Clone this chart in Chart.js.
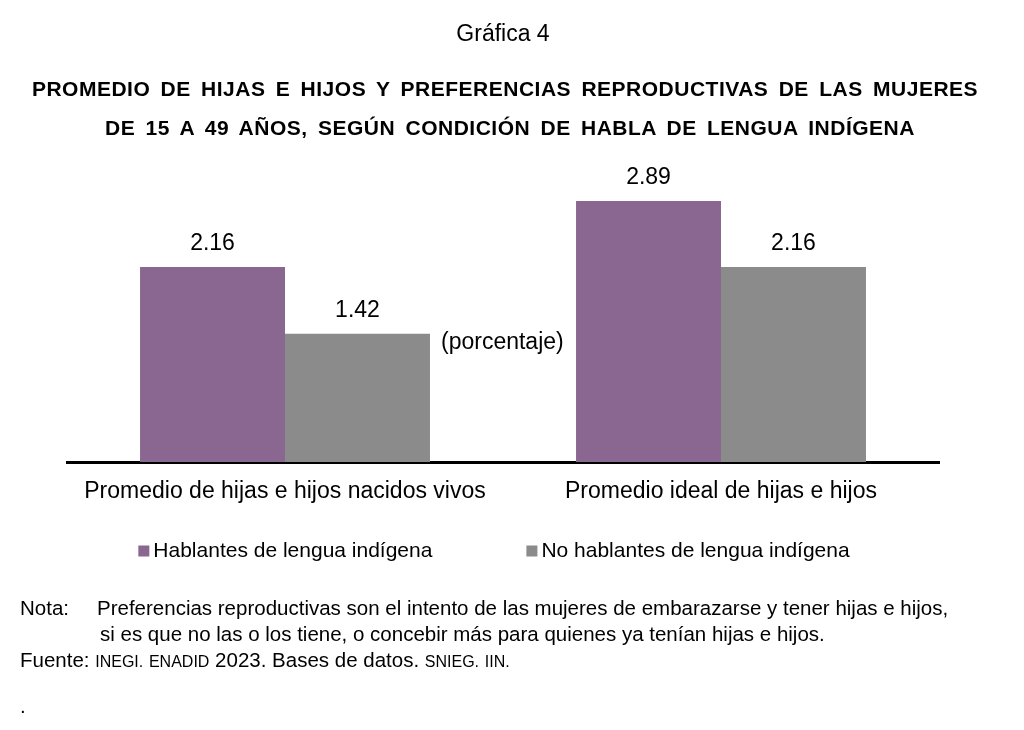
<!DOCTYPE html>
<html lang="es">
<head>
<meta charset="utf-8">
<title>Gráfica 4</title>
<script src="https://cdn.jsdelivr.net/npm/chart.js@4.4.1/dist/chart.umd.min.js"></script>
<style>
  html, body { margin: 0; padding: 0; background: #fff; }
  body { width: 1024px; height: 730px; position: relative; overflow: hidden;
         font-family: "Liberation Sans", Arial, sans-serif; color: #000; }
  #grafica { position: absolute; left: 0; top: 0; }
  .txt { position: absolute; white-space: nowrap; }
  .titulo { font-size: 21px; font-weight: bold; letter-spacing: 0.5px; word-spacing: 4px; line-height: 26px; }
  .nota { font-size: 20.5px; line-height: 26px; }
  .sc { font-size: 16px; }
</style>
</head>
<body>
<canvas id="grafica" width="1024" height="730"></canvas>

<div class="txt" style="left:0; width:1006px; top:19px; text-align:center; font-size:23px; line-height:28px;">Gráfica 4</div>
<div class="txt titulo" style="left:0; width:1010px; top:76px; text-align:center;">PROMEDIO DE HIJAS E HIJOS Y PREFERENCIAS REPRODUCTIVAS DE LAS MUJERES</div>
<div class="txt titulo" style="left:0; width:1020px; top:115px; text-align:center;">DE 15 A 49 AÑOS, SEGÚN CONDICIÓN DE HABLA DE LENGUA INDÍGENA</div>

<div class="txt" style="left:441px; top:327px; font-size:23px; line-height:28px;">(porcentaje)</div>

<div class="txt nota" style="left:20px; top:595px;">Nota:</div>
<div class="txt nota" style="left:97px; top:595px;">Preferencias reproductivas son el intento de las mujeres de embarazarse y tener hijas e hijos,</div>
<div class="txt nota" style="left:100px; top:621px;">si es que no las o los tiene, o concebir más para quienes ya tenían hijas e hijos.</div>
<div class="txt nota" style="left:20px; top:647px;">Fuente: <span class="sc">INEGI.</span> <span class="sc">ENADID</span> 2023. Bases de datos. <span class="sc">SNIEG.</span> <span class="sc">IIN.</span></div>
<div class="txt nota" style="left:20px; top:693px;">.</div>

<script>
// datos de la gráfica
const categorias = ['Promedio de hijas e hijos nacidos vivos', 'Promedio ideal de hijas e hijos'];
const series = ['Hablantes de lengua indígena', 'No hablantes de lengua indígena'];
const hablantes = [2.16, 2.89];
const noHablantes = [1.42, 2.16];

const colorMorado = '#8a6790';
const colorGris = '#8b8b8b';
const fuente = '"Liberation Sans", Arial, sans-serif';

// etiquetas de valor encima de cada barra
const etiquetasPlugin = {
  id: 'etiquetas',
  afterDatasetsDraw(chart) {
    const ctx = chart.ctx;
    ctx.save();
    ctx.font = '23px ' + fuente;
    ctx.fillStyle = '#000';
    ctx.textAlign = 'center';
    ctx.textBaseline = 'middle';
    chart.data.datasets.forEach((ds, i) => {
      chart.getDatasetMeta(i).data.forEach((bar, j) => {
        ctx.fillText(ds.data[j].toFixed(2), bar.x, bar.y - 23);
      });
    });
    ctx.restore();
  }
};

// leyenda abajo, con cuadritos de color
const leyendaPlugin = {
  id: 'leyenda',
  afterDraw(chart) {
    const ctx = chart.ctx;
    ctx.save();
    ctx.font = '21px ' + fuente;
    ctx.textBaseline = 'middle';
    const box = 11, gap = 4, sep = 94, y = 551;
    const items = chart.data.datasets.map(d => ({
      text: d.label, color: d.backgroundColor, w: ctx.measureText(d.label).width
    }));
    const total = items.reduce((s, it) => s + box + gap + it.w, 0) + sep * (items.length - 1);
    let x = 494 - total / 2;
    items.forEach(it => {
      ctx.fillStyle = it.color;
      ctx.fillRect(x, y - box / 2, box, box);
      ctx.fillStyle = '#000';
      ctx.fillText(it.text, x + box + gap, y);
      x += box + gap + it.w + sep;
    });
    ctx.restore();
  }
};

new Chart(document.getElementById('grafica'), {
  type: 'bar',
  data: {
    labels: categorias,
    datasets: [
      { label: series[0], data: hablantes, backgroundColor: colorMorado, borderWidth: 0 },
      { label: series[1], data: noHablantes, backgroundColor: colorGris, borderWidth: 0 }
    ]
  },
  options: {
    responsive: false,
    animation: false,
    layout: { padding: { left: 67, right: 85, top: 173, bottom: 0 } },
    datasets: { bar: { categoryPercentage: 0.665, barPercentage: 1.0 } },
    plugins: {
      legend: { display: false },
      tooltip: { enabled: false }
    },
    scales: {
      x: {
        grid: { display: false, drawTicks: false },
        border: { display: true, color: '#000', width: 3 },
        ticks: { color: '#000', font: { size: 23, family: fuente }, padding: 16 },
        afterFit: s => { s.height = 268; }
      },
      y: { display: false, min: 0, max: 3.2 }
    }
  },
  plugins: [etiquetasPlugin, leyendaPlugin]
});
</script>
</body>
</html>
